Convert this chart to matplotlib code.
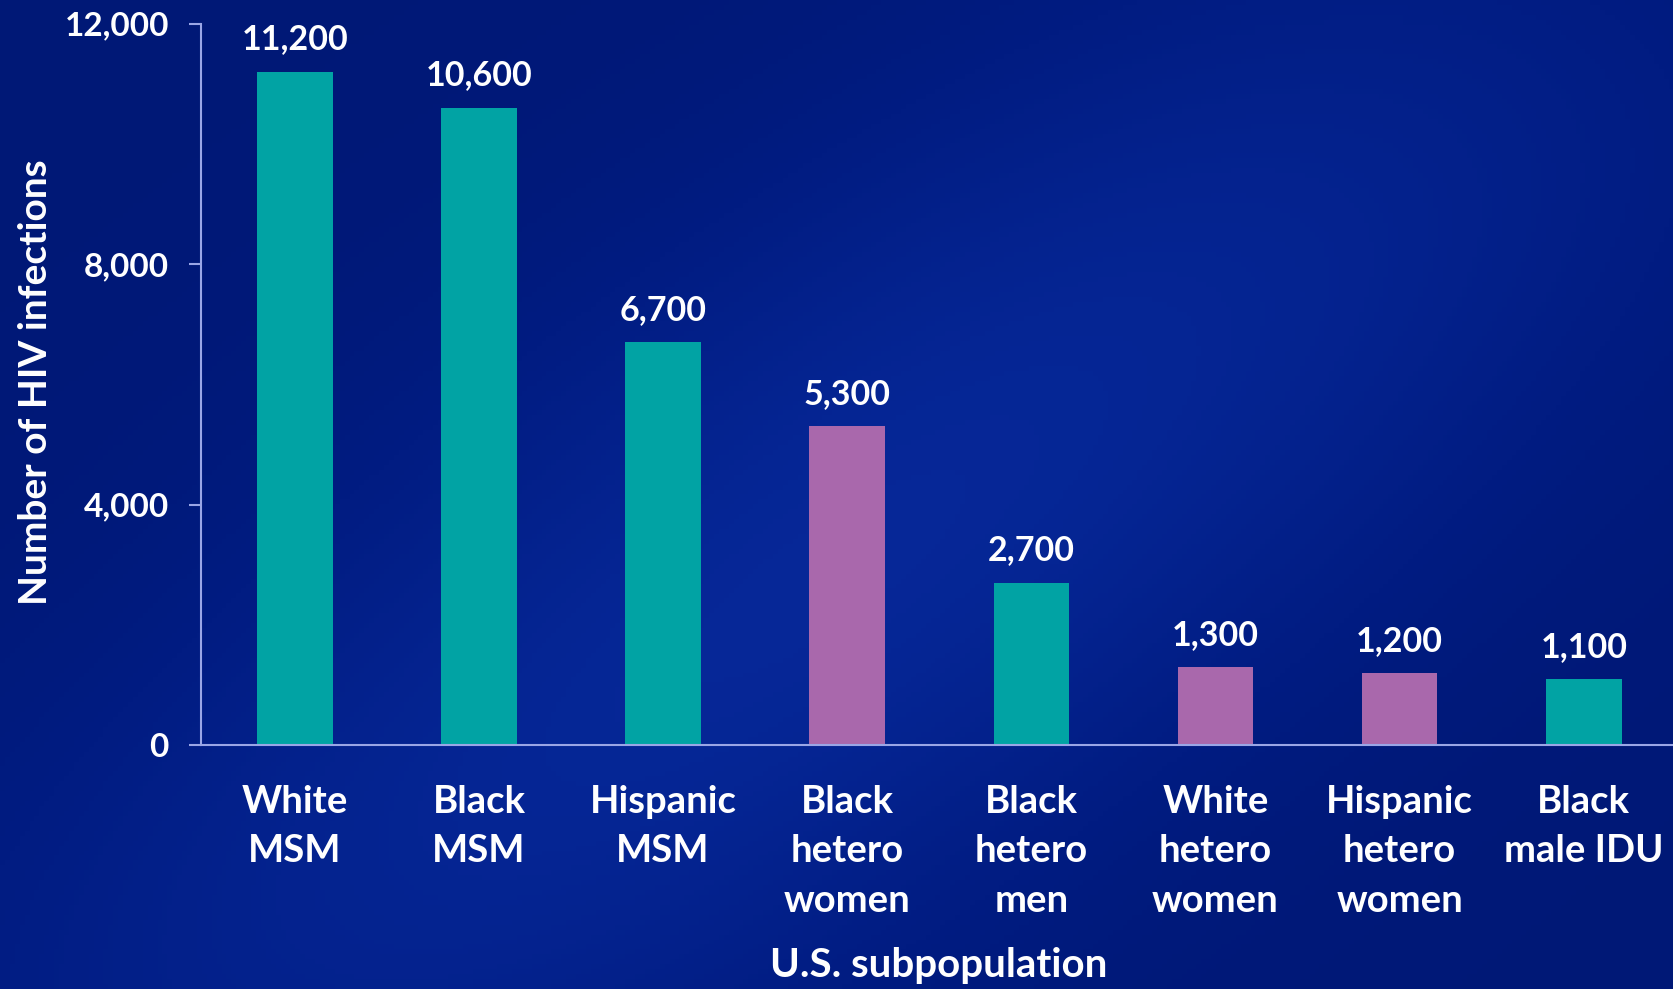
import numpy as np
import matplotlib
matplotlib.use("Agg")
import matplotlib.pyplot as plt
from matplotlib.colors import LinearSegmentedColormap

plt.rcParams['font.family'] = ['Lato', 'DejaVu Sans']
plt.rcParams['font.weight'] = 'bold'

# data
categories = ['White\nMSM', 'Black\nMSM', 'Hispanic\nMSM', 'Black\nhetero\nwomen',
              'Black\nhetero\nmen', 'White\nhetero\nwomen', 'Hispanic\nhetero\nwomen',
              'Black\nmale IDU']
infections = [11200, 10600, 6700, 5300, 2700, 1300, 1200, 1100]
is_women = [False, False, False, True, False, True, True, False]
yticks = [0, 4000, 8000, 12000]

teal = '#01a3a4'
purple = '#a968ac'
axis_col = '#9aa6e6'

fig = plt.figure(figsize=(16.74, 9.89), dpi=100)

# background gradient
bg = fig.add_axes([0, 0, 1, 1])
yy, xx = np.mgrid[0:1:200j, 0:1:340j]
d = (xx * 0.8 + yy * 0.6)
streak = np.exp(-((d - 0.75) / 0.28) ** 2)
edge = np.clip(1 - ((xx - 0.45) ** 2 + (yy - 0.55) ** 2) * 1.2, 0, 1)
val = 0.35 + 0.45 * streak * edge
cmap = LinearSegmentedColormap.from_list('bg', ['#000f5c', '#011c82', '#0a2fa6'])
bg.imshow(val, cmap=cmap, vmin=0, vmax=1, aspect='auto', origin='upper',
          extent=[0, 1, 0, 1])
bg.axis('off')

ax = fig.add_axes([0.120, 0.2467, 0.880, 0.7295])
ax.patch.set_alpha(0)
x = np.arange(len(categories))
colors = [purple if w else teal for w in is_women]
bars = ax.bar(x, infections, width=0.41, color=colors)

for xi, v in zip(x, infections):
    ax.text(xi, v + 270, f'{v:,}', ha='center', va='bottom', color='white',
            fontsize=24.5, fontweight='bold')

ax.set_xlim(-0.51, 7.49)
ax.set_ylim(0, 12000)
ax.set_yticks(yticks)
ax.set_yticklabels([f'{t:,}' for t in yticks])
ax.set_xticks(x)
ax.set_xticklabels(categories, linespacing=1.54)

for s in ['top', 'right']:
    ax.spines[s].set_visible(False)
ax.spines['left'].set_color(axis_col)
ax.spines['bottom'].set_color(axis_col)
ax.spines['left'].set_linewidth(1.5)
ax.spines['bottom'].set_linewidth(1.5)

ax.tick_params(axis='y', colors=axis_col, length=9, width=1.5, pad=14,
               labelcolor='white', labelsize=24)
ax.tick_params(axis='x', length=0, pad=29, labelcolor='white', labelsize=27.5)
for lab in ax.get_xticklabels() + ax.get_yticklabels():
    lab.set_fontweight('bold')

fig.text(0.021, 0.614, 'Number of HIV infections', rotation=90, ha='center',
         va='center', color='white', fontsize=28, fontweight='bold')
fig.text(0.561, 0.024, 'U.S. subpopulation', ha='center', va='center',
         color='white', fontsize=29, fontweight='bold')

fig.savefig('out.png', dpi=100)
